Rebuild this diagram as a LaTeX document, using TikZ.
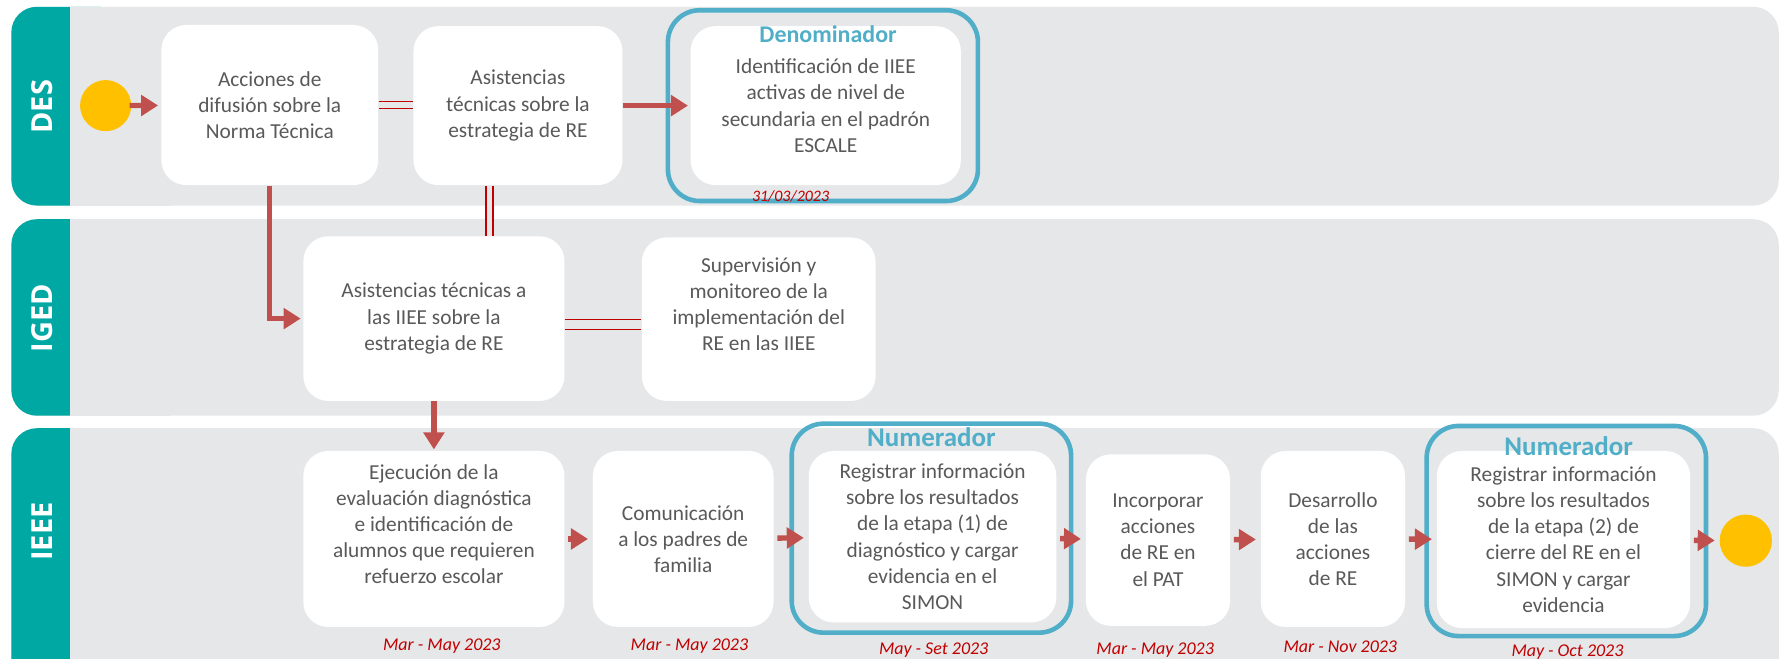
\documentclass[tikz,border=0pt]{standalone}
\usepackage{fontspec}
\setmainfont{Carlito}
\newfontfamily\lanefont{Open Sans}
\usetikzlibrary{arrows.meta}

\definecolor{lanegray}{RGB}{230,231,233}
\definecolor{laneteal}{RGB}{0,168,164}
\definecolor{frameblue}{RGB}{80,174,200}
\definecolor{flowred}{RGB}{192,80,77}
\definecolor{tiered}{RGB}{192,0,0}
\definecolor{boxtext}{RGB}{89,89,89}
\definecolor{dotyellow}{RGB}{255,192,0}

\tikzset{
	box/.style={fill=white, rounded corners=0.44cm, text=boxtext, align=center, inner sep=0pt,
		font=\fontsize{10.7}{13.1}\selectfont},
	frame/.style={draw=frameblue, line width=2.3pt, rounded corners=0.56cm, minimum width=4.92cm},
	flabel/.style={text=frameblue, font=\bfseries\fontsize{13.5}{15}\selectfont},
	date/.style={text=tiered, font=\itshape\fontsize{9}{10}\selectfont},
	dot/.style={circle, fill=dotyellow, minimum size=0.9cm, inner sep=0pt},
	lanelabel/.style={rotate=90, text=white, font=\lanefont\bfseries\fontsize{14.5}{17}\selectfont},
	flow/.style={draw=flowred, line width=2.7pt, -{Triangle[length=0.3cm,width=0.36cm]}},
	tie/.style={draw=tiered, line width=0.7pt, double=lanegray, double distance=0.1cm},
}

\begin{document}
\begin{tikzpicture}[x=0.02cm, y=-0.02cm]
	\clip (0,0) rectangle (1568,580);
	\fill[white] (0,0) rectangle (1568,580);
	%% ========================================================
	%% lanes
	\foreach \top/\bot in {6/181, 193/366, 377/620} {
		\fill[lanegray, rounded corners=0.45cm] (10,\top) rectangle (1566,\bot);
		\fill[laneteal, rounded corners=0.45cm] (10,\top) rectangle (110,\bot);
		\fill[lanegray] (62,\top) rectangle (150,\bot);
	}
	\node[lanelabel] (lDES) at (37,94) {DES};
	\node[lanelabel] (lIGED) at (37,280) {IGED};
	\node[lanelabel] (lIEEE) at (37,468) {IEEE};
	%% ========================================================

	%% ========================================================
	%% DES
	\node[dot] (st) at (93,93) {};
	\node[box, minimum width=3.82cm, minimum height=2.82cm] (b1) at (237.5,92.5) {Acciones de\\difusión sobre la\\Norma Técnica};
	\node[box, minimum width=3.68cm, minimum height=2.8cm] (b2) at (456,93) {Asistencias\\técnicas sobre la\\estrategia de RE};
	\node[frame, minimum width=5.46cm, minimum height=3.36cm] (den) at (724.5,93) {};
	\node[box, minimum width=4.76cm, minimum height=2.8cm] (b3) at (727,93) {Identificación de IIEE\\activas de nivel de\\secundaria en el padrón\\ESCALE};
	\node[flabel, font=\bfseries\fontsize{12}{14}\selectfont] (denl) at (729,30) {Denominador};
	\node[date, font=\itshape\fontsize{8}{9}\selectfont] (d3) at (696,173) {31/03/2023};
	%% ========================================================

	%% ========================================================
	%% IGED
	\node[box, minimum width=4.6cm, minimum height=2.9cm] (b4) at (382,280.5) {Asistencias técnicas a\\las IIEE sobre la\\estrategia de RE};
	\node[box, minimum width=4.12cm, minimum height=2.88cm, text depth=15pt] (b5) at (668,281) {Supervisión y\\monitoreo de la\\implementación del\\RE en las IIEE};
	%% ========================================================

	%% ========================================================
	%% IEEE
	\node[box, minimum width=4.6cm, minimum height=3.1cm, text depth=15pt] (b6) at (382,474.5) {Ejecución de la\\evaluación diagnóstica\\e identificación de\\alumnos que requieren\\refuerzo escolar};
	\node[date] (d6) at (389,569) {Mar - May 2023};

	\node[box, minimum width=3.18cm, minimum height=3.1cm] (b7) at (601.5,474.5) {Comunicación\\a los padres de\\familia};
	\node[date] (d7) at (607,569) {Mar - May 2023};

	\node[frame, minimum height=3.68cm] (num1) at (820,465) {};
	\node[box, minimum width=4.36cm, minimum height=3.02cm] (b8) at (821,472.5) {Registrar información\\sobre los resultados\\de la etapa (1) de\\diagnóstico y cargar\\evidencia en el\\SIMON};
	\node[flabel] (num1l) at (820,385) {Numerador};
	\node[date] (d8) at (822,572) {May - Set 2023};

	\node[box, minimum width=2.54cm, minimum height=3.02cm] (b9) at (1019.5,475.5) {Incorporar\\acciones\\de RE en\\el PAT};
	\node[date] (d9) at (1017,572) {Mar - May 2023};

	\node[box, minimum width=2.54cm, minimum height=3.1cm] (b10) at (1173.5,474.5) {Desarrollo\\de las\\acciones\\de RE};
	\node[date] (d10) at (1180,569) {Mar - Nov 2023};

	\node[frame, minimum height=3.7cm] (num2) at (1379,467.5) {};
	\node[box, minimum width=4.46cm, minimum height=3.12cm] (b11) at (1376.5,475) {Registrar información\\sobre los resultados\\de la etapa (2) de\\cierre del RE en el\\SIMON y cargar\\evidencia};
	\node[flabel] (num2l) at (1381,393) {Numerador};
	\node[date] (d11) at (1380,574) {May - Oct 2023};

	\node[dot, minimum size=0.92cm] (en) at (1537,476) {};
	%% ========================================================

	%% ========================================================
	%% connectors
	\draw[flow, shorten <=-1pt, shorten >=0.05cm] (st) -- (b1);
	\draw[tie] (b1.east) -- (b1.east -| b2.west);
	\draw[flow, shorten >=0.04cm] (b2.east) -- (b3.west);
	\draw[flow, shorten >=0.04cm] (b1.south) |- (b4.west);
	\draw[tie] ([xshift=-0.5cm]b2.south) -- ([xshift=-0.5cm]b2.south |- b4.north);
	\draw[tie, double distance=0.15cm] ([yshift=-0.1cm]b4.east) -- ([yshift=-0.1cm]b4.east -| b5.west);
	\draw[flow, shorten >=0.02cm] (b4) -- (b6);

	\foreach \a/\b in {b6/b7, b7/b8, b8/b9, b9/b10, b10/b11, b11/en}
		\draw[flow, shorten <=0.06cm, shorten >=0.08cm] (\a) -- (\b);
	%% ========================================================
\end{tikzpicture}
\end{document}
